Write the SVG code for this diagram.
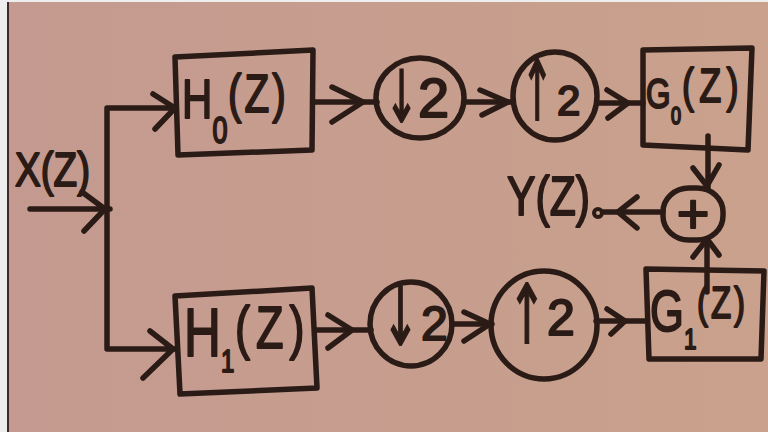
<svg xmlns="http://www.w3.org/2000/svg" width="768" height="432" viewBox="0 0 768 432">
<defs>
<linearGradient id="bg" x1="0" y1="0" x2="1" y2="0">
<stop offset="0" stop-color="#c49a90"/>
<stop offset="1" stop-color="#c9a18c"/>
</linearGradient>
</defs>
<style>
.s{fill:none;stroke:#2b1b16;stroke-width:5.5;stroke-linecap:round;stroke-linejoin:round}
.t{font-family:"Liberation Sans",Arial,sans-serif;fill:#2b1b16;stroke:#2b1b16;stroke-width:2;stroke-linejoin:round}
.a{font-family:"DejaVu Sans",sans-serif;fill:#2b1b16;stroke:#2b1b16;stroke-width:1.8}
</style>
<rect width="768" height="432" fill="url(#bg)"/>
<rect x="0" y="0" width="7" height="432" fill="#eeeeee"/>
<rect x="0" y="0" width="768" height="2" fill="#eeeeee"/>
<rect x="7" y="2" width="2" height="430" fill="#3a2a28"/>

<g id="label-x">
<text class="t" x="15" y="186" font-size="48" textLength="75" lengthAdjust="spacingAndGlyphs">X(Z)</text>
</g>

<g id="h0">
<path class="s" d="M175,57 L313,50 L312,150 L178,155 Z"/>
<text class="t" transform="scale(0.75,1)"><tspan x="242.7" y="118" font-size="56">H</tspan><tspan x="283.3" y="143" font-size="36">0</tspan><tspan x="304" y="112" font-size="54" letter-spacing="4">(Z)</tspan></text>
</g>

<g id="h1">
<path class="s" d="M175,296 L312,288 L317,388 L180,394 Z"/>
<text class="t" transform="scale(0.75,1)"><tspan x="245.3" y="356" font-size="68">H</tspan><tspan x="294.7" y="372" font-size="32">1</tspan><tspan x="313.3" y="348" font-size="60" letter-spacing="8">(Z)</tspan></text>
</g>

<g id="down0">
<ellipse class="s" cx="420" cy="98" rx="44" ry="40"/>
<text class="a" transform="translate(385,122) scale(0.55,1)" font-size="72">↓</text>
<text class="t" x="418" y="117" font-size="56">2</text>
</g>

<g id="up0">
<ellipse class="s" cx="555" cy="96" rx="42" ry="44"/>
<text class="a" transform="translate(521,120) scale(0.46,1)" font-size="84">↑</text>
<text class="t" x="557" y="115" font-size="42">2</text>
</g>

<g id="down1">
<ellipse class="s" cx="411" cy="324" rx="41" ry="42"/>
<text class="a" transform="translate(382,345) scale(0.55,1)" font-size="80">↓</text>
<text class="t" x="421" y="340" font-size="48">2</text>
</g>

<g id="up1">
<ellipse class="s" cx="544" cy="325" rx="53" ry="54"/>
<text class="a" transform="translate(508,343) scale(0.55,1)" font-size="82">↑</text>
<text class="t" x="547" y="335" font-size="50">2</text>
</g>

<g id="g0">
<path class="s" d="M643,50 L752,48 L748,150 L643,145 Z"/>
<text class="t" transform="scale(0.75,1)"><tspan x="861.3" y="108" font-size="42">G</tspan><tspan x="894.7" y="124" font-size="24">0</tspan><tspan x="909.3" y="102" font-size="48" letter-spacing="7">(Z)</tspan></text>
</g>

<g id="g1">
<path class="s" d="M646,269 L764,271 L761,359 L649,359 Z"/>
<text class="t" transform="scale(0.75,1)"><tspan x="866.7" y="331" font-size="58">G</tspan><tspan x="912" y="349" font-size="30">1</tspan><tspan x="929.3" y="318" font-size="44" letter-spacing="4">(Z)</tspan></text>
</g>

<g id="adder">
<rect class="s" x="663" y="188" width="60" height="52" rx="26" ry="24"/>
<text class="t" x="693" y="233" font-size="56" text-anchor="middle">+</text>
</g>

<g id="label-y">
<text class="t" x="507" y="215" font-size="56" textLength="83" lengthAdjust="spacingAndGlyphs">Y(Z)</text>
</g>

<g id="connectors">
<path class="s" d="M30,209 L110,209"/>
<polyline class="s" points="82,192 105,209 84,231"/>
<path class="s" d="M175,108 L107,108 L107,349 L175,349"/>
<polyline class="s" points="153,94 175,108 155,129"/>
<polyline class="s" points="150,331 173,349 143,378"/>
<path class="s" d="M313,102 L377,102"/>
<polyline class="s" points="332,87 363,102 332,122"/>
<path class="s" d="M465,102 L513,102"/>
<polyline class="s" points="480,90 508,102 482,115"/>
<path class="s" d="M597,103 L643,103"/>
<polyline class="s" points="607,90 628,103 608,118"/>
<path class="s" d="M708,136 L708,188"/>
<polyline class="s" points="693,168 707,186 719,165"/>
<path class="s" d="M663,212 L603,212"/>
<polyline class="s" points="637,197 618,212 637,228"/>
<circle class="s" cx="598" cy="213" r="4" style="stroke-width:4"/>
<path class="s" d="M707,292 L707,240"/>
<polyline class="s" points="693,257 707,239 719,255"/>
<path class="s" d="M317,330 L371,330"/>
<polyline class="s" points="328,315 352,330 328,348"/>
<path class="s" d="M452,324 L492,324"/>
<polyline class="s" points="464,312 490,324 464,341"/>
<path class="s" d="M596,321 L646,321"/>
<polyline class="s" points="607,309 625,321 611,334"/>
</g>
</svg>
